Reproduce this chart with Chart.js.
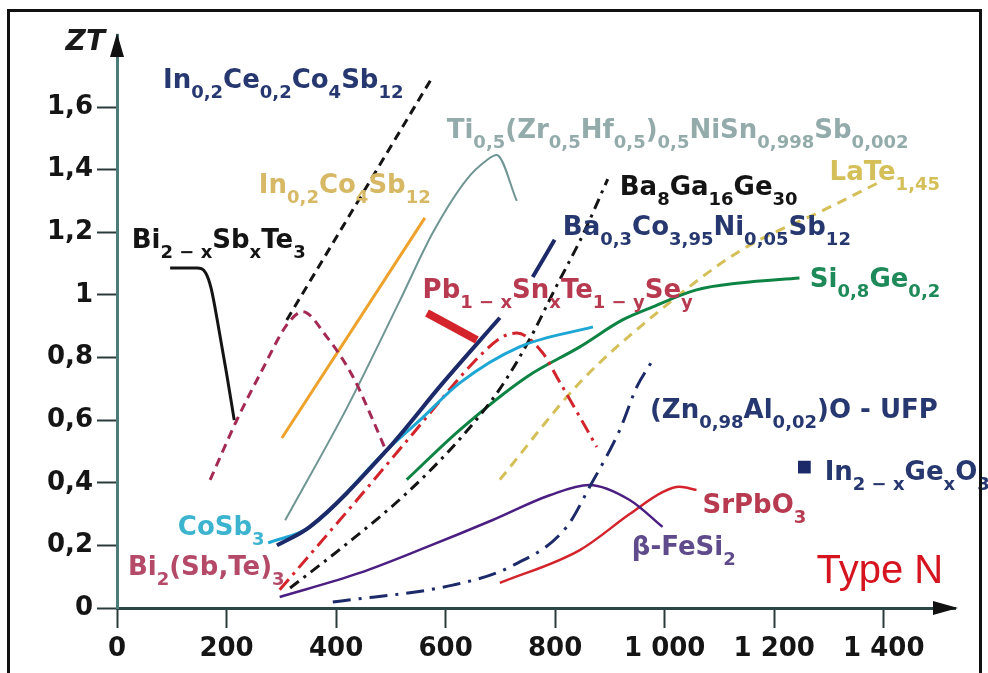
<!DOCTYPE html>
<html>
<head>
<meta charset="utf-8">
<script src="https://cdn.jsdelivr.net/npm/chart.js@4.4.1/dist/chart.umd.min.js"></script>
<style>
  html, body { margin: 0; padding: 0; background: #fff; }
  canvas { display: block; }
</style>
</head>
<body>
<canvas id="zt" width="988" height="673"></canvas>
<script>
// ZT figure of merit of N-type thermoelectric materials versus temperature

// Tick labels
const xTickValues = [0, 200, 400, 600, 800, 1000, 1200, 1400];
const yTickValues = [0, 0.2, 0.4, 0.6, 0.8, 1, 1.2, 1.4, 1.6];

// Bi(2-x)Sb(x)Te3
const biSbTe_T  = [97, 146, 162, 172, 185, 200, 214];
const biSbTe_ZT = [1.086, 1.086, 1.07, 1.02, 0.90, 0.75, 0.60];

// Bi2(Sb,Te)3
const biSbTe2_T  = [170, 219, 265, 310, 339, 383, 431, 467, 489];
const biSbTe2_ZT = [0.409, 0.601, 0.760, 0.904, 0.946, 0.866, 0.738, 0.601, 0.511];

// In0,2Ce0,2Co4Sb12
const inCeCoSb_T  = [310, 575];
const inCeCoSb_ZT = [0.92, 1.693];

// In0,2Co4Sb12
const inCoSb_T  = [301, 562];
const inCoSb_ZT = [0.543, 1.246];

// Ti0,5(Zr0,5Hf0,5)0,5NiSn0,998Sb0,002
const tiNiSn_T  = [307, 420, 516, 577, 639, 675, 693, 730];
const tiNiSn_ZT = [0.28, 0.64, 0.98, 1.20, 1.37, 1.43, 1.447, 1.30];

// CoSb3
const coSb_T  = [276, 352, 493, 553, 626, 735, 869];
const coSb_ZT = [0.208, 0.259, 0.505, 0.60, 0.719, 0.834, 0.898];

// Ba0,3Co3,95Ni0,05Sb12
const baCoNiSb_T  = [292, 352, 493, 595, 699];
const baCoNiSb_ZT = [0.20, 0.259, 0.505, 0.719, 0.927];
const baCoNiSbHigh_T  = [759, 799];
const baCoNiSbHigh_ZT = [1.057, 1.176];

// Pb(1-x)Sn(x)Te(1-y)Se(y)
const pbSnTeSe_T  = [297, 443, 535, 668, 704, 730, 777, 803, 845, 876];
const pbSnTeSe_ZT = [0.058, 0.355, 0.546, 0.815, 0.866, 0.878, 0.815, 0.738, 0.61, 0.514];
const pbSnTeSeBar_T  = [566, 657];
const pbSnTeSeBar_ZT = [0.942, 0.856];

// Ba8Ga16Ge30
const baGaGe_T  = [316, 416, 529, 626, 699, 754, 800, 850, 896];
const baGaGe_ZT = [0.064, 0.20, 0.367, 0.54, 0.70, 0.86, 1.02, 1.19, 1.37];

// Si0,8Ge0,2
const siGe_T  = [529, 626, 748, 845, 923, 973, 1058, 1137, 1246];
const siGe_ZT = [0.41, 0.569, 0.738, 0.834, 0.92, 0.958, 1.016, 1.038, 1.054];

// LaTe1,45
const laTe_T  = [699, 845, 991, 1137, 1301, 1392];
const laTe_ZT = [0.41, 0.72, 0.95, 1.14, 1.28, 1.36];

// (Zn0,98Al0,02)O - UFP
const znAlO_T  = [394, 613, 717, 821, 863, 918, 949, 976];
const znAlO_ZT = [0.019, 0.073, 0.131, 0.259, 0.387, 0.569, 0.706, 0.786];

// beta-FeSi2
const feSi_T  = [297, 443, 566, 686, 790, 862, 936, 996];
const feSi_ZT = [0.035, 0.112, 0.195, 0.281, 0.36, 0.393, 0.345, 0.259];

// SrPbO3
const srPbO_T  = [699, 845, 936, 996, 1027, 1058];
const srPbO_ZT = [0.08, 0.185, 0.30, 0.37, 0.387, 0.377];

// In(2-x)Ge(x)O3 single value
const inGeO_T  = [1255];
const inGeO_ZT = [0.45];

// Material names (subscripts written as _{...}) and where they sit (T, ZT)
const labelTexts = [
  'In_{0,2}Ce_{0,2}Co_{4}Sb_{12}',
  'Ti_{0,5}(Zr_{0,5}Hf_{0,5})_{0,5}NiSn_{0,998}Sb_{0,002}',
  'In_{0,2}Co_{4}Sb_{12}',
  'Bi_{2 − x}Sb_{x}Te_{3}',
  'Ba_{8}Ga_{16}Ge_{30}',
  'LaTe_{1,45}',
  'Ba_{0,3}Co_{3,95}Ni_{0,05}Sb_{12}',
  'Pb_{1 − x}Sn_{x}Te_{1 − y}Se_{y}',
  'Si_{0,8}Ge_{0,2}',
  '(Zn_{0,98}Al_{0,02})O - UFP',
  'In_{2 − x}Ge_{x}O_{3}',
  'CoSb_{3}',
  'Bi_{2}(Sb,Te)_{3}',
  'SrPbO_{3}',
  'β-FeSi_{2}'
];
const labelT  = [84, 602, 259, 27, 918, 1301, 814, 558, 1265, 973, 1292, 111, 20, 1069, 940];
const labelZT = [1.661, 1.502, 1.326, 1.150, 1.319, 1.367, 1.192, 0.990, 1.026, 0.607, 0.409, 0.233, 0.105, 0.304, 0.169];

const C = {
  navy: '#1c2a6a', navyText: '#26386f', black: '#141414', grey: '#6f9593', greyText: '#93abaa',
  orange: '#eea22c', tan: '#d6b865', olive: '#d4bf58', cyan: '#1ea7d4', cyanText: '#3cb4cf',
  red: '#d3232b', crimson: '#b73a50', pink: '#a42a52', pinkText: '#b44a68', green: '#0e8444',
  greenText: '#1f8a59', purple: '#4b1f82', purpleText: '#5f4b8c', typeN: '#d5141f'
};
const labelColors = [C.navyText, C.greyText, C.tan, C.black, C.black, C.olive, C.navyText, C.crimson,
  C.greenText, C.navyText, C.navyText, C.cyanText, C.pinkText, C.crimson, C.purpleText];

const pts = (xs, ys) => xs.map((x, i) => ({ x, y: ys[i] }));
function curve(xs, ys, color, width, dash) {
  return {
    data: pts(xs, ys), showLine: true, borderColor: color, backgroundColor: color,
    borderWidth: width, borderDash: dash || [], pointRadius: 0, pointHoverRadius: 0,
    cubicInterpolationMode: 'monotone', fill: false, borderCapStyle: 'butt'
  };
}

const datasets = [
  curve(pbSnTeSeBar_T, pbSnTeSeBar_ZT, C.red, 8),
  curve(baCoNiSb_T, baCoNiSb_ZT, C.navy, 4),
  curve(baCoNiSbHigh_T, baCoNiSbHigh_ZT, C.navy, 4),
  curve(coSb_T, coSb_ZT, C.cyan, 3),
  curve(pbSnTeSe_T, pbSnTeSe_ZT, C.red, 3, [14, 6, 3, 6]),
  curve(baGaGe_T, baGaGe_ZT, C.black, 3, [11, 6, 3, 6]),
  curve(siGe_T, siGe_ZT, C.green, 3),
  curve(laTe_T, laTe_ZT, C.olive, 3, [10, 7]),
  curve(znAlO_T, znAlO_ZT, C.navy, 3, [18, 8, 3, 8]),
  curve(feSi_T, feSi_ZT, C.purple, 2.5),
  curve(srPbO_T, srPbO_ZT, C.red, 2.5),
  curve(biSbTe_T, biSbTe_ZT, C.black, 3),
  curve(biSbTe2_T, biSbTe2_ZT, C.pink, 3, [9, 6]),
  curve(inCeCoSb_T, inCeCoSb_ZT, C.black, 3, [9, 6]),
  curve(inCoSb_T, inCoSb_ZT, C.orange, 3),
  curve(tiNiSn_T, tiNiSn_ZT, C.grey, 2),
  {
    data: pts(inGeO_T, inGeO_ZT), showLine: false, pointStyle: 'rect', pointRadius: 9,
    pointBackgroundColor: C.navy, pointBorderColor: C.navy, pointBorderWidth: 0
  }
];

function drawRich(ctx, text, x, y, size, color) {
  const parts = [];
  const re = /_\{([^}]*)\}/g;
  let last = 0, m;
  while ((m = re.exec(text))) {
    if (m.index > last) parts.push([text.slice(last, m.index), false]);
    parts.push([m[1], true]);
    last = re.lastIndex;
  }
  if (last < text.length) parts.push([text.slice(last), false]);
  ctx.fillStyle = color;
  ctx.textAlign = 'left';
  ctx.textBaseline = 'alphabetic';
  let cx = x;
  for (const [s, sub] of parts) {
    const fs = sub ? Math.round(size * 0.69) : size;
    ctx.font = `bold ${fs}px "DejaVu Sans"`;
    ctx.fillText(s, cx, sub ? y + size * 0.38 : y);
    cx += ctx.measureText(s).width;
  }
}

const decorations = {
  id: 'decorations',
  beforeDraw(chart) {
    const ctx = chart.ctx;
    ctx.save();
    ctx.fillStyle = '#fff';
    ctx.fillRect(0, 0, chart.width, chart.height);
    ctx.restore();
  },
  afterDatasetsDraw(chart) {
    const { ctx, scales: { x, y } } = chart;
    ctx.save();
    labelTexts.forEach((t, i) => {
      drawRich(ctx, t, x.getPixelForValue(labelT[i]), y.getPixelForValue(labelZT[i]), 26, labelColors[i]);
    });
    ctx.font = '40px "Liberation Sans"';
    ctx.fillStyle = C.typeN;
    ctx.fillText('Type N', x.getPixelForValue(1277), y.getPixelForValue(0.08));
    ctx.restore();
  },
  afterDraw(chart) {
    const { ctx, chartArea: a } = chart;
    ctx.save();
    // axis arrowheads
    ctx.fillStyle = '#111';
    ctx.beginPath();
    ctx.moveTo(a.left, a.top - 2);
    ctx.lineTo(a.left - 7, a.top + 22);
    ctx.lineTo(a.left + 7, a.top + 22);
    ctx.closePath();
    ctx.fill();
    ctx.beginPath();
    ctx.moveTo(a.right + 3, a.bottom);
    ctx.lineTo(a.right - 22, a.bottom - 7);
    ctx.lineTo(a.right - 22, a.bottom + 7);
    ctx.closePath();
    ctx.fill();
    // axis title
    ctx.font = 'italic bold 28px "DejaVu Sans"';
    ctx.textAlign = 'right';
    ctx.textBaseline = 'alphabetic';
    ctx.fillStyle = '#1a1a1a';
    ctx.fillText('ZT', a.left - 12, a.top + 15);
    // frame
    ctx.strokeStyle = '#111';
    ctx.lineWidth = 3;
    ctx.beginPath();
    ctx.moveTo(8.5, chart.height + 2);
    ctx.lineTo(8.5, 10.5);
    ctx.lineTo(980.5, 10.5);
    ctx.lineTo(980.5, chart.height + 2);
    ctx.stroke();
    ctx.restore();
  }
};

const tickFont = { family: '"DejaVu Sans"', size: 26, weight: 'bold' };

new Chart(document.getElementById('zt'), {
  type: 'scatter',
  data: { datasets },
  options: {
    responsive: false,
    animation: false,
    events: [],
    layout: { padding: { left: 0, right: 33, top: 35, bottom: 0 } },
    plugins: { legend: { display: false }, tooltip: { enabled: false } },
    scales: {
      x: {
        type: 'linear', min: 0, max: 1530,
        afterBuildTicks: s => { s.ticks = xTickValues.map(v => ({ value: v })); },
        afterFit: s => { s.height = 65; },
        ticks: {
          font: tickFont, color: '#151515', padding: 6, maxRotation: 0, autoSkip: false,
          callback: v => v >= 1000 ? Math.floor(v / 1000) + ' ' + String(v % 1000).padStart(3, '0') : String(v)
        },
        grid: { drawOnChartArea: false, drawTicks: true, tickLength: 20, tickColor: '#2b3b3b', tickWidth: 2 },
        border: { color: '#2c4545', width: 3 }
      },
      y: {
        type: 'linear', min: 0, max: 1.83,
        afterBuildTicks: s => { s.ticks = yTickValues.map(v => ({ value: v })); },
        afterFit: s => { s.width = 117; },
        ticks: {
          font: tickFont, color: '#151515', padding: 4, autoSkip: false,
          callback: v => String(+v.toFixed(1)).replace('.', ',')
        },
        grid: { drawOnChartArea: false, drawTicks: true, tickLength: 20, tickColor: '#2b3b3b', tickWidth: 2 },
        border: { color: '#4c7c79', width: 3 }
      }
    }
  },
  plugins: [decorations]
});
</script>
</body>
</html>
